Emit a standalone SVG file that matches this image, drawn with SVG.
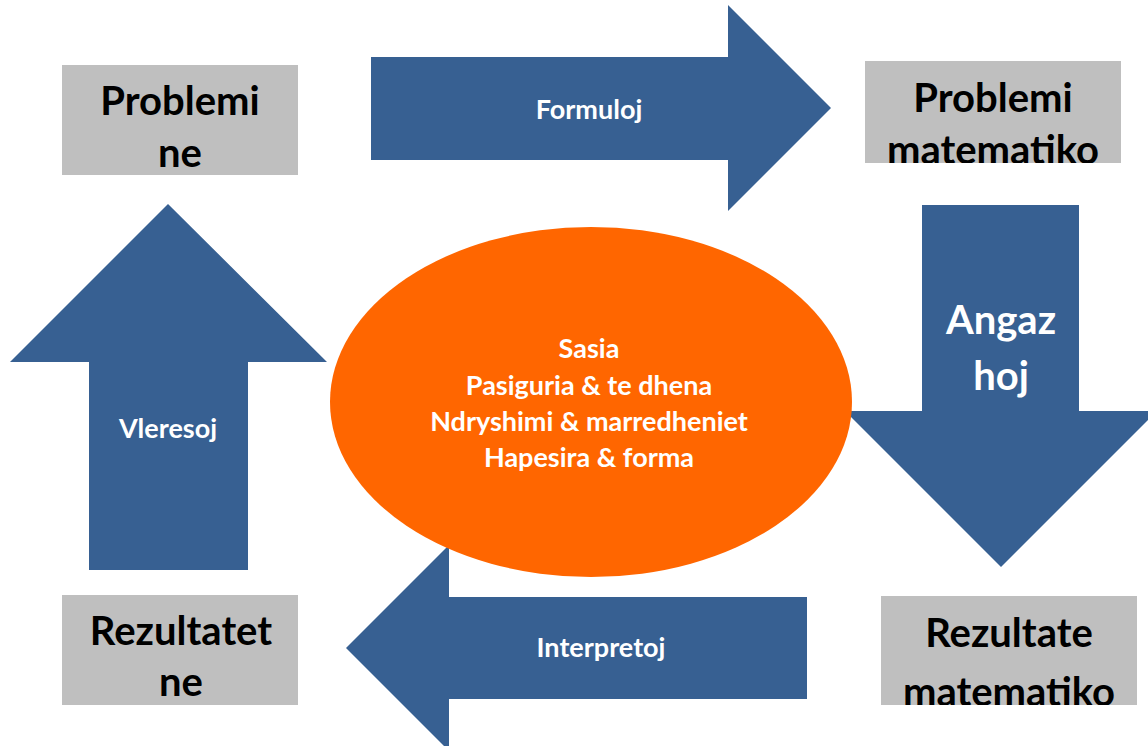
<svg xmlns="http://www.w3.org/2000/svg" width="1148" height="746" viewBox="0 0 1148 746">
<style>
.arrow{fill:#376092}
.box{fill:#bfbfbf}
.bt{font-family:Lato,"Liberation Sans",sans-serif;font-weight:700;font-size:40px;fill:#000;text-anchor:middle}
.wt{font-family:Lato,"Liberation Sans",sans-serif;font-weight:700;fill:#fff;text-anchor:middle;font-size:27px}
.wt.big{font-size:40px}
</style>
<defs>
<clipPath id="c1"><rect x="62" y="65" width="236" height="110"/></clipPath>
<clipPath id="c2"><rect x="865" y="61" width="256" height="102"/></clipPath>
<clipPath id="c3"><rect x="62" y="595" width="236" height="110"/></clipPath>
<clipPath id="c4"><rect x="881" y="596" width="256" height="109"/></clipPath>
</defs>
<rect width="1148" height="746" fill="#fff"/>
<g id="connectors">
<g id="formuloj">
<polygon class="arrow" points="371,57 728,57 728,5 831,108 728,211 728,160 371,160"/>
<text class="wt" x="589" y="119">Formuloj</text>
</g>
<g id="angazhoj">
<polygon class="arrow" points="922,205 1079,205 1079,411 1157,411 1001,567 845,411 922,411"/>
<text class="wt big" x="1001" y="334">Angaz</text>
<text class="wt big" x="1001" y="390">hoj</text>
</g>
<g id="interpretoj">
<polygon class="arrow" points="807,597 807,699 449,699 449,751 346,648 449,545 449,597"/>
<text class="wt" x="601" y="657">Interpretoj</text>
</g>
<g id="vleresoj">
<polygon class="arrow" points="89,570 89,362 10,362 168,204 327,362 248,362 248,570"/>
<text class="wt" x="168" y="438">Vleresoj</text>
</g>
</g>
<g id="center">
<ellipse cx="591" cy="402" rx="261" ry="175" fill="#ff6600"/>
<text class="wt"><tspan x="589" y="358">Sasia</tspan><tspan x="589" y="395">Pasiguria &amp; te dhena</tspan><tspan x="589" y="431">Ndryshimi &amp; marredheniet</tspan><tspan x="589" y="467">Hapesira &amp; forma</tspan></text>
</g>
<g id="problemi-ne">
<rect class="box" x="62" y="65" width="236" height="110"/>
<g clip-path="url(#c1)"><text class="bt" x="180" y="115">Problemi</text><text class="bt" x="180" y="167">ne</text></g>
</g>
<g id="problemi-matematiko">
<rect class="box" x="865" y="61" width="256" height="102"/>
<g clip-path="url(#c2)"><text class="bt" x="993" y="112">Problemi</text><text class="bt" x="993" y="164">matematiko</text></g>
</g>
<g id="rezultatet-ne">
<rect class="box" x="62" y="595" width="236" height="110"/>
<g clip-path="url(#c3)"><text class="bt" x="181" y="645">Rezultatet</text><text class="bt" x="181" y="696">ne</text></g>
</g>
<g id="rezultate-matematiko">
<rect class="box" x="881" y="596" width="256" height="109"/>
<g clip-path="url(#c4)"><text class="bt" x="1009" y="647">Rezultate</text><text class="bt" x="1009" y="706">matematiko</text></g>
</g>
</svg>
